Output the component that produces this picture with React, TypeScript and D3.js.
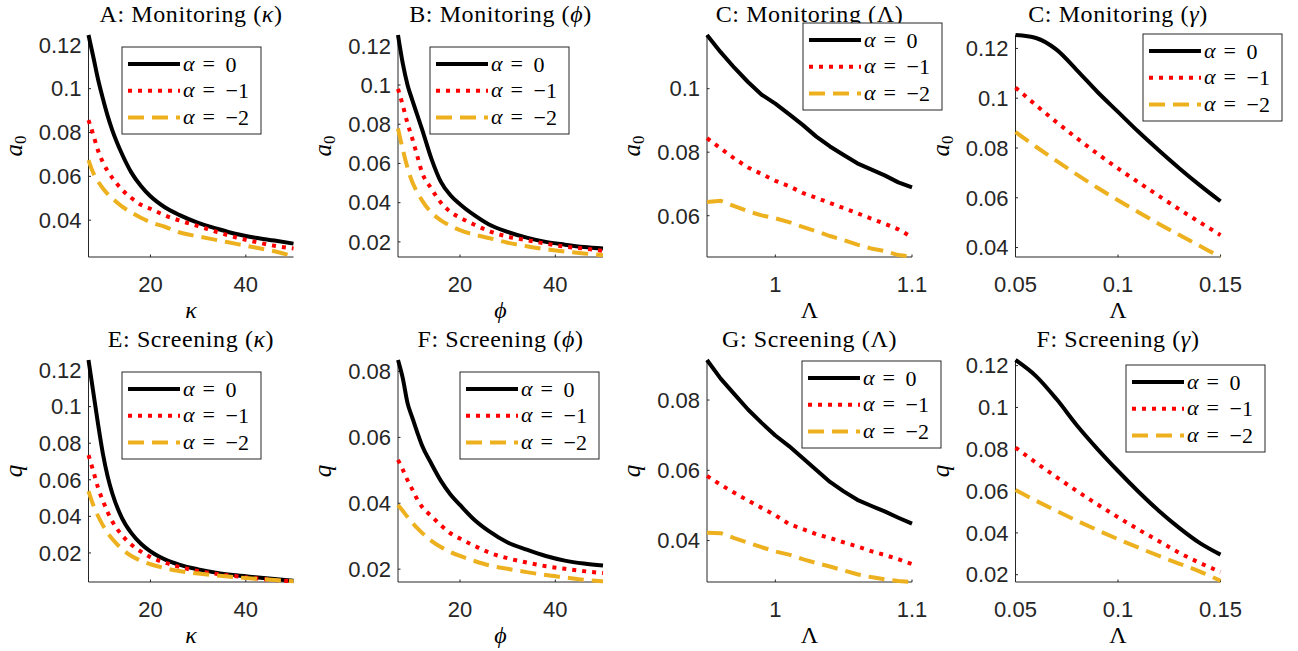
import React from "react";
import * as d3 from "d3";

// ---------- data ----------
const kappaGrid = [7, 8, 9, 10, 11, 12, 14, 16, 18, 20, 23, 26, 30, 34, 38, 42, 46, 50];
const phiGrid = [7, 8, 9, 10, 11, 12, 14, 16, 18, 20, 23, 26, 30, 34, 38, 42, 46, 50];
const lambdaGrid = [0.95, 0.96, 0.97, 0.98, 0.99, 1.0, 1.01, 1.02, 1.03, 1.04, 1.05, 1.06, 1.07, 1.08, 1.09, 1.1];
const gammaGrid = [0.05, 0.06, 0.07, 0.08, 0.09, 0.1, 0.11, 0.12, 0.13, 0.14, 0.15];

// A: Monitoring (kappa)
const monKappaA0 = [0.1245, 0.1146, 0.1043, 0.0956, 0.0877, 0.081, 0.0703, 0.0617, 0.0556, 0.0509, 0.0459, 0.0424, 0.0388, 0.0361, 0.0337, 0.032, 0.0307, 0.0293];
const monKappaA1 = [0.0857, 0.079, 0.0718, 0.0665, 0.0624, 0.0593, 0.054, 0.0501, 0.047, 0.0452, 0.0422, 0.0399, 0.0373, 0.0346, 0.0321, 0.0301, 0.0283, 0.0271];
const monKappaA2 = [0.0674, 0.0616, 0.0577, 0.0546, 0.052, 0.0499, 0.0463, 0.0435, 0.0411, 0.0391, 0.037, 0.0345, 0.0326, 0.0309, 0.0292, 0.0275, 0.0258, 0.0235];
// B: Monitoring (phi)
const monPhiA0 = [0.1255, 0.111, 0.1, 0.0923, 0.085, 0.0778, 0.0625, 0.0506, 0.0438, 0.0392, 0.0336, 0.029, 0.0251, 0.0222, 0.02, 0.0186, 0.0174, 0.0166];
const monPhiA1 = [0.098, 0.0897, 0.0804, 0.0727, 0.0642, 0.0557, 0.0472, 0.04, 0.0353, 0.0324, 0.0288, 0.0256, 0.0227, 0.0209, 0.0191, 0.0176, 0.0166, 0.0154];
const monPhiA2 = [0.0778, 0.0672, 0.0578, 0.0505, 0.0455, 0.0413, 0.035, 0.031, 0.0282, 0.026, 0.0237, 0.022, 0.0196, 0.0178, 0.0163, 0.0151, 0.0141, 0.0132];
// C: Monitoring (Lambda)
const monLambda0 = [0.1169, 0.1115, 0.1066, 0.1021, 0.0981, 0.0953, 0.092, 0.0886, 0.0849, 0.0818, 0.0791, 0.0765, 0.0746, 0.0727, 0.0705, 0.0689];
const monLambda1 = [0.0844, 0.0812, 0.078, 0.0752, 0.0731, 0.071, 0.0693, 0.0672, 0.0656, 0.064, 0.0624, 0.0608, 0.0591, 0.0575, 0.0557, 0.0532];
const monLambda2 = [0.0643, 0.0647, 0.063, 0.0614, 0.0601, 0.0592, 0.058, 0.0565, 0.0551, 0.0536, 0.0523, 0.0509, 0.0497, 0.0489, 0.0476, 0.0471];
// D: Monitoring (gamma)
const monGamma0 = [0.1254, 0.1242, 0.1195, 0.1112, 0.1025, 0.0945, 0.0865, 0.079, 0.0718, 0.065, 0.0586];
const monGamma1 = [0.1043, 0.0972, 0.0904, 0.0839, 0.0777, 0.0718, 0.0662, 0.0607, 0.0553, 0.0501, 0.045];
const monGamma2 = [0.0864, 0.0805, 0.0748, 0.0693, 0.064, 0.059, 0.0542, 0.0495, 0.045, 0.0406, 0.0362];
// E: Screening (kappa)
const scrKappa0 = [0.1255, 0.108, 0.0905, 0.0745, 0.062, 0.0525, 0.0392, 0.0308, 0.025, 0.0208, 0.0165, 0.0136, 0.011, 0.0091, 0.0078, 0.0067, 0.0057, 0.0048];
const scrKappa1 = [0.0735, 0.0648, 0.0557, 0.0486, 0.0424, 0.0372, 0.0298, 0.0245, 0.0207, 0.0177, 0.0147, 0.0124, 0.0101, 0.0085, 0.0072, 0.0061, 0.0052, 0.0045];
const scrKappa2 = [0.0538, 0.0462, 0.0402, 0.0352, 0.031, 0.0276, 0.0222, 0.0183, 0.0157, 0.0138, 0.0117, 0.0101, 0.0087, 0.0076, 0.0067, 0.0059, 0.0052, 0.0045];
// F: Screening (phi)
const scrPhi0 = [0.0835, 0.078, 0.0704, 0.066, 0.0617, 0.0577, 0.052, 0.0468, 0.0427, 0.0395, 0.035, 0.0316, 0.0281, 0.0259, 0.024, 0.0226, 0.0217, 0.0211];
const scrPhi1 = [0.0532, 0.0502, 0.047, 0.0442, 0.0413, 0.039, 0.0361, 0.0333, 0.0309, 0.0293, 0.0271, 0.0251, 0.0233, 0.022, 0.0209, 0.0201, 0.0194, 0.0188];
const scrPhi2 = [0.0395, 0.0377, 0.0358, 0.0341, 0.0325, 0.0311, 0.0286, 0.0267, 0.0252, 0.024, 0.0225, 0.0212, 0.0201, 0.0191, 0.0182, 0.0175, 0.0168, 0.0163];
// G: Screening (Lambda)
const scrLambda0 = [0.0914, 0.0861, 0.0817, 0.0773, 0.0735, 0.0699, 0.0669, 0.0635, 0.0601, 0.0567, 0.054, 0.0516, 0.0499, 0.0483, 0.0465, 0.0448];
const scrLambda1 = [0.0584, 0.0559, 0.0536, 0.0514, 0.0493, 0.0472, 0.0447, 0.0433, 0.0418, 0.0407, 0.0395, 0.0383, 0.037, 0.0359, 0.0347, 0.0333];
const scrLambda2 = [0.0422, 0.0421, 0.0407, 0.0394, 0.0381, 0.0369, 0.036, 0.0347, 0.0336, 0.0326, 0.0315, 0.0304, 0.0296, 0.029, 0.0285, 0.0282];
// H: Screening (gamma)
const scrGamma0 = [0.1227, 0.115, 0.104, 0.0914, 0.0801, 0.0696, 0.0597, 0.0505, 0.0423, 0.0351, 0.0296];
const scrGamma1 = [0.0808, 0.0736, 0.0667, 0.06, 0.0536, 0.0475, 0.0416, 0.036, 0.0304, 0.0256, 0.0213];
const scrGamma2 = [0.0605, 0.0554, 0.0505, 0.0458, 0.0413, 0.037, 0.0329, 0.029, 0.0252, 0.0215, 0.0171];

// axis limits
const xLimKappa = [7, 50];
const xLimLambda = [0.95, 1.1];
const xLimGamma = [0.05, 0.15];
const yLimA = [0.0232, 0.1245];
const yLimB = [0.0123, 0.1255];
const yLimC = [0.047, 0.1169];
const yLimD = [0.0362, 0.1254];
const yLimE = [0.0041, 0.1255];
const yLimF = [0.0161, 0.0835];
const yLimG = [0.0282, 0.0914];
const yLimH = [0.0165, 0.1227];

// ticks
const xTicksKappa = [20, 40];
const xTicksLambda = [1, 1.1];
const xTicksGamma = [0.05, 0.1, 0.15];
const yTicksA = [0.04, 0.06, 0.08, 0.1, 0.12];
const yTicksB = [0.02, 0.04, 0.06, 0.08, 0.1, 0.12];
const yTicksC = [0.06, 0.08, 0.1];
const yTicksD = [0.04, 0.06, 0.08, 0.1, 0.12];
const yTicksE = [0.02, 0.04, 0.06, 0.08, 0.1, 0.12];
const yTicksF = [0.02, 0.04, 0.06, 0.08];
const yTicksG = [0.04, 0.06, 0.08];
const yTicksH = [0.02, 0.04, 0.06, 0.08, 0.1, 0.12];

const alphaValues = ["0", "\u22121", "\u22122"];
const seriesColors = ["#000000", "#ff0000", "#EDB120"];
const seriesDash = [null, "4 6", "16 8"];

// ---------- layout ----------
const colLeft = [88.5, 398, 707, 1015.5];
const rowTop = [35, 360];
const plotW = 205;
const plotH = 222;
const axisColor = "#262626";
const serif = "Liberation Serif, Times New Roman, serif";
const sans = "Liberation Sans, Arial, Helvetica, sans-serif";

type PanelDef = {
  title: string;
  sym: string;
  symItalic: boolean;
  x: number[];
  series: number[][];
  xLim: number[];
  yLim: number[];
  xTicks: number[];
  yTicks: number[];
  xLabel: string;
  xLabelItalic: boolean;
  yLabel: "a0" | "q";
  smooth: boolean;
  col: number;
  row: number;
  legend: [number, number];
};

const panels: PanelDef[] = [
  { title: "A: Monitoring", sym: "\u03BA", symItalic: true, x: kappaGrid, series: [monKappaA0, monKappaA1, monKappaA2], xLim: xLimKappa, yLim: yLimA, xTicks: xTicksKappa, yTicks: yTicksA, xLabel: "\u03BA", xLabelItalic: true, yLabel: "a0", smooth: true, col: 0, row: 0, legend: [122, 47] },
  { title: "B: Monitoring", sym: "\u03D5", symItalic: true, x: phiGrid, series: [monPhiA0, monPhiA1, monPhiA2], xLim: xLimKappa, yLim: yLimB, xTicks: xTicksKappa, yTicks: yTicksB, xLabel: "\u03D5", xLabelItalic: true, yLabel: "a0", smooth: true, col: 1, row: 0, legend: [430, 47] },
  { title: "C: Monitoring", sym: "\u039B", symItalic: false, x: lambdaGrid, series: [monLambda0, monLambda1, monLambda2], xLim: xLimLambda, yLim: yLimC, xTicks: xTicksLambda, yTicks: yTicksC, xLabel: "\u039B", xLabelItalic: false, yLabel: "a0", smooth: false, col: 2, row: 0, legend: [803, 23] },
  { title: "C: Monitoring", sym: "\u03B3", symItalic: true, x: gammaGrid, series: [monGamma0, monGamma1, monGamma2], xLim: xLimGamma, yLim: yLimD, xTicks: xTicksGamma, yTicks: yTicksD, xLabel: "\u039B", xLabelItalic: false, yLabel: "a0", smooth: true, col: 3, row: 0, legend: [1143, 34] },
  { title: "E: Screening", sym: "\u03BA", symItalic: true, x: kappaGrid, series: [scrKappa0, scrKappa1, scrKappa2], xLim: xLimKappa, yLim: yLimE, xTicks: xTicksKappa, yTicks: yTicksE, xLabel: "\u03BA", xLabelItalic: true, yLabel: "q", smooth: true, col: 0, row: 1, legend: [122, 372] },
  { title: "F: Screening", sym: "\u03D5", symItalic: true, x: phiGrid, series: [scrPhi0, scrPhi1, scrPhi2], xLim: xLimKappa, yLim: yLimF, xTicks: xTicksKappa, yTicks: yTicksF, xLabel: "\u03D5", xLabelItalic: true, yLabel: "q", smooth: true, col: 1, row: 1, legend: [460, 372] },
  { title: "G: Screening", sym: "\u039B", symItalic: false, x: lambdaGrid, series: [scrLambda0, scrLambda1, scrLambda2], xLim: xLimLambda, yLim: yLimG, xTicks: xTicksLambda, yTicks: yTicksG, xLabel: "\u039B", xLabelItalic: false, yLabel: "q", smooth: false, col: 2, row: 1, legend: [802, 361] },
  { title: "F: Screening", sym: "\u03B3", symItalic: true, x: gammaGrid, series: [scrGamma0, scrGamma1, scrGamma2], xLim: xLimGamma, yLim: yLimH, xTicks: xTicksGamma, yTicks: yTicksH, xLabel: "\u039B", xLabelItalic: false, yLabel: "q", smooth: true, col: 3, row: 1, legend: [1126, 365] },
];

const fmt = (v: number) => String(+v.toFixed(3));

function Panel({ p }: { p: PanelDef }) {
  const left = colLeft[p.col];
  const top = rowTop[p.row];
  const right = left + plotW;
  const bottom = top + plotH;
  const xs = d3.scaleLinear().domain(p.xLim).range([left, right]);
  const ys = d3.scaleLinear().domain(p.yLim).range([bottom, top]);
  const line = d3
    .line<number>()
    .x((_, i) => xs(p.x[i]))
    .y((d) => ys(d))
    .curve(p.smooth ? d3.curveMonotoneX : d3.curveLinear);
  const cx = (left + right) / 2;
  const cy = (top + bottom) / 2;
  const [lx, ly] = p.legend;
  return (
    <g>
      {/* axes */}
      <line x1={left} x2={left} y1={top} y2={bottom} stroke={axisColor} strokeWidth={1} />
      <line x1={left} x2={right} y1={bottom} y2={bottom} stroke={axisColor} strokeWidth={1} />
      {p.yTicks.map((t) => (
        <g key={"y" + t}>
          <line x1={left} x2={left + 2.5} y1={ys(t)} y2={ys(t)} stroke={axisColor} strokeWidth={1} />
          <text x={left - 7} y={ys(t) + 7.8} textAnchor="end" fontFamily={sans} fontSize={22} fill={axisColor}>
            {fmt(t)}
          </text>
        </g>
      ))}
      {p.xTicks.map((t) => (
        <g key={"x" + t}>
          <line x1={xs(t)} x2={xs(t)} y1={bottom} y2={bottom - 2.5} stroke={axisColor} strokeWidth={1} />
          <text x={xs(t)} y={bottom + 35} textAnchor="middle" fontFamily={sans} fontSize={22} fill={axisColor}>
            {fmt(t)}
          </text>
        </g>
      ))}
      {/* series */}
      {p.series.map((s, i) => (
        <path
          key={"s" + i}
          d={line(s) || ""}
          fill="none"
          stroke={seriesColors[i]}
          strokeWidth={4}
          strokeDasharray={seriesDash[i] || undefined}
          strokeLinejoin="round"
        />
      ))}
      {/* title */}
      <text x={cx} y={top - 13} textAnchor="middle" fontFamily={serif} fontSize={24} letterSpacing={0.6} fill="#000">
        {p.title + " ("}
        <tspan fontStyle={p.symItalic ? "italic" : "normal"}>{p.sym}</tspan>
        {")"}
      </text>
      {/* x label */}
      <text x={cx} y={bottom + 61} textAnchor="middle" fontFamily={serif} fontSize={24} fontStyle={p.xLabelItalic ? "italic" : "normal"} fill="#000">
        {p.xLabel}
      </text>
      {/* y label */}
      <text transform={`translate(${left - 67},${cy}) rotate(-90)`} textAnchor="middle" fontFamily={serif} fontSize={25} fill="#000">
        <tspan fontStyle="italic">{p.yLabel === "a0" ? "a" : "q"}</tspan>
        {p.yLabel === "a0" ? (
          <tspan fontSize={17} dy={4}>0</tspan>
        ) : null}
      </text>
      {/* legend */}
      <rect x={lx} y={ly} width={139} height={87} fill="#fff" stroke={axisColor} strokeWidth={1} />
      {alphaValues.map((a, i) => {
        const ry = ly + 17 + i * 26.7;
        return (
          <g key={"l" + i}>
            <line x1={lx + 6} x2={lx + 58} y1={ry} y2={ry} stroke={seriesColors[i]} strokeWidth={4} strokeDasharray={seriesDash[i] || undefined} />
            <text x={lx + 61} y={ry + 6.5} fontFamily={serif} fontSize={22} fontStyle="italic" fill="#000">{"\u03B1"}</text>
            <text x={lx + 80.5} y={ry + 6.5} fontFamily={serif} fontSize={22} fill="#000">=</text>
            <text x={lx + 103.5} y={ry + 7.5} fontFamily={serif} fontSize={22} fill="#000">{a}</text>
          </g>
        );
      })}
    </g>
  );
}

export default function App() {
  return (
    <svg width={1298} height={651} style={{ position: "absolute", left: 0, top: 0, background: "#fff" }}>
      <rect x={0} y={0} width={1298} height={651} fill="#fff" />
      {panels.map((p, i) => (
        <Panel key={i} p={p} />
      ))}
    </svg>
  );
}
